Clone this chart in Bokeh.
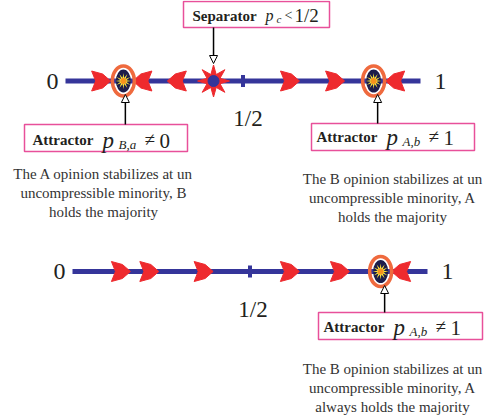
import numpy as np
from bokeh.plotting import figure
from bokeh.models import Range1d, Arrow, NormalHead
from bokeh.core.properties import value
from bokeh.embed import file_html
from bokeh.resources import INLINE

# ---------------- data: positions on the [0, 1] opinion axis ----------------
end_values = [0.0, 1.0]
end_labels = ["0", "1"]
half_tick = [0.5]
half_label = "1/2"

top_attractors = [0.163, 0.868]
top_attractor_subs = ["B,a", "A,b"]
top_attractor_vals = ["0", "1"]
top_separator = [0.417]
top_arrows_right = [0.099, 0.631, 0.758]
top_arrows_left = [0.218, 0.315, 0.93]

bot_attractors = [0.868]
bot_attractor_subs = ["A,b"]
bot_attractor_vals = ["1"]
bot_arrows_right = [0.135, 0.215, 0.368, 0.611, 0.752]
bot_arrows_left = [0.927]

top_caption_left = ["The A opinion stabilizes at un", "uncompressible minority, B", "holds the majority"]
top_caption_right = ["The B opinion stabilizes at un", "uncompressible minority, A", "holds the majority"]
bot_caption = ["The B opinion stabilizes at un", "uncompressible minority, A", "always holds the majority"]

# ---------------- layout / style ----------------
L = 355.0
TOP_X0, TOP_Y = 65.0, 80.5
BOT_X0, BOT_Y = 72.0, 271.0
BLUE = "#35359a"
RED = "#ee2a2e"
RING = "#ef6a3e"
PINK = "#e8509a"
SERIF = value("Liberation Serif")
TXT = "#231f20"
DY = -5  # baseline correction

p = figure(width=486, height=417, x_range=Range1d(0, 486), y_range=Range1d(417, 0),
           output_backend="svg", toolbar_location=None, min_border=0,
           x_axis_location=None, y_axis_location=None)
p.grid.visible = False
p.outline_line_color = None
p.background_fill_color = "white"


def px(f, x0):
    return x0 + np.asarray(f, dtype=float) * L


def dart(cx, cy, d):
    pts = [(10, 0), (2, -7), (-9, -10), (-5, 0), (-9, 10), (2, 7)]
    return [cx + d * a for a, b in pts], [cy + b for a, b in pts]


def star(cx, cy, n, ro, ri, rot=-np.pi / 2):
    ang = rot + np.arange(2 * n) * np.pi / n
    r = np.where(np.arange(2 * n) % 2 == 0, ro, ri)
    return list(cx + r * np.cos(ang)), list(cy + r * np.sin(ang))


def state_line(x0, y, arrows_r, arrows_l, attractors, separators):
    p.line([x0, x0 + L], [y, y], line_width=5, color=BLUE)
    hx = px(half_tick, x0)
    p.segment(hx, [y - 6] * len(hx), hx, [y + 6] * len(hx), line_width=4, color=BLUE)
    xs, ys = [], []
    for f in arrows_r:
        a, b = dart(px(f, x0), y, 1)
        xs.append(a); ys.append(b)
    for f in arrows_l:
        a, b = dart(px(f, x0), y, -1)
        xs.append(a); ys.append(b)
    p.patches(xs, ys, fill_color=RED, line_color=RED, line_width=1)
    for f in separators:
        cx = px(f, x0)
        a, b = star(cx, y, 8, 16, 7)
        p.patch(a, b, fill_color=RED, line_color=RED)
        p.scatter([cx], [y], size=11, fill_color=BLUE, line_color=BLUE)
    for f in attractors:
        cx = px(f, x0)
        p.ellipse([cx], [y], width=15, height=23, fill_color="#1d1d4a", line_color=None)
        a, b = star(cx, y, 12, 8, 3)
        p.patch(a, b, fill_color="#ffe83a", line_color=None)
        p.scatter([cx], [y], size=6, fill_color="#f7941d", line_color=None)
        p.ellipse([cx], [y], width=22, height=30, fill_color=None, line_color=RING, line_width=3.5)
    lx = [x0 - 13, x0 + L + 20]
    p.text(lx, [y, y], text=end_labels, text_font=SERIF, text_font_size="24px",
           text_align="center", text_baseline="middle", text_color=TXT)


state_line(TOP_X0, TOP_Y, top_arrows_right, top_arrows_left, top_attractors, top_separator)
state_line(BOT_X0, BOT_Y, bot_arrows_right, bot_arrows_left, bot_attractors, [])

p.text([px(half_tick, TOP_X0)[0] + 5], [118], text=[half_label], text_font=SERIF,
       text_font_size="23px", text_align="center", text_baseline="middle", text_color=TXT)
p.text([px(half_tick, BOT_X0)[0] + 3], [309], text=[half_label], text_font=SERIF,
       text_font_size="23px", text_align="center", text_baseline="middle", text_color=TXT)


def box(l, r, t, b):
    p.quad(left=[l], right=[r], top=[t], bottom=[b], fill_color="white",
           line_color=PINK, line_width=1.5)


def pointer(x, y0, y1):
    p.add_layout(Arrow(end=NormalHead(size=8, fill_color="white", line_color="black", line_width=1),
                       x_start=x, y_start=y0, x_end=x, y_end=y1, line_color="black", line_width=1.5))


def attractor_label(xl, base, sub, val):
    base = base + DY
    p.text([xl], [base], text=["Attractor"], text_font=SERIF, text_font_style="bold",
           text_font_size="15px", text_baseline="alphabetic", text_color=TXT)
    p.text([xl + 70], [base + 1], text=["p"], text_font=SERIF, text_font_style="italic",
           text_font_size="23px", text_baseline="alphabetic", text_color=TXT)
    p.text([xl + 86], [base + 5], text=[sub], text_font=SERIF, text_font_style="italic",
           text_font_size="13px", text_baseline="alphabetic", text_color=TXT)
    p.text([xl + 112], [base], text=["\u2260"], text_font=SERIF,
           text_font_size="19px", text_baseline="alphabetic", text_color=TXT)
    p.text([xl + 127], [base + 1], text=[val], text_font=SERIF,
           text_font_size="21px", text_baseline="alphabetic", text_color=TXT)


# separator callout
sx = px(top_separator, TOP_X0)[0]
pointer(sx, 27, 63)
box(183, 329, 1, 27)
p.text([192], [20 + DY], text=["Separator"], text_font=SERIF, text_font_style="bold",
       text_font_size="15px", text_baseline="alphabetic", text_color=TXT)
p.text([265], [20 + DY], text=["p"], text_font=SERIF, text_font_style="italic",
       text_font_size="16px", text_baseline="alphabetic", text_color=TXT)
p.text([276], [23 + DY], text=["c"], text_font=SERIF, text_font_style="italic",
       text_font_size="11px", text_baseline="alphabetic", text_color=TXT)
p.text([284], [20 + DY], text=["<"], text_font=SERIF,
       text_font_size="14px", text_baseline="alphabetic", text_color=TXT)
p.text([294], [20 + DY], text=["1/2"], text_font=SERIF,
       text_font_size="19px", text_baseline="alphabetic", text_color=TXT)

# attractor callouts
ax = px(top_attractors, TOP_X0)
pointer(ax[0] + 2, 124, 94)
box(24, 187, 124, 151)
attractor_label(32, 144, top_attractor_subs[0], top_attractor_vals[0])
pointer(ax[1] + 4, 123, 94)
box(311, 474, 123, 150)
attractor_label(316, 141, top_attractor_subs[1], top_attractor_vals[1])

bx = px(bot_attractors, BOT_X0)
pointer(bx[0] + 4, 312, 285)
box(318, 482, 312, 339)
attractor_label(323, 331, bot_attractor_subs[0], bot_attractor_vals[0])


def caption(cx, y0, lines):
    p.text([cx] * len(lines), [y0 + 19 * i for i in range(len(lines))], text=lines,
           text_font=SERIF, text_font_size="15px", text_align="center",
           text_baseline="middle", text_color="#333333")


caption(103, 173, top_caption_left)
caption(392, 178, top_caption_right)
caption(392, 368, bot_caption)

open("out.html", "w").write(file_html(p, INLINE))
